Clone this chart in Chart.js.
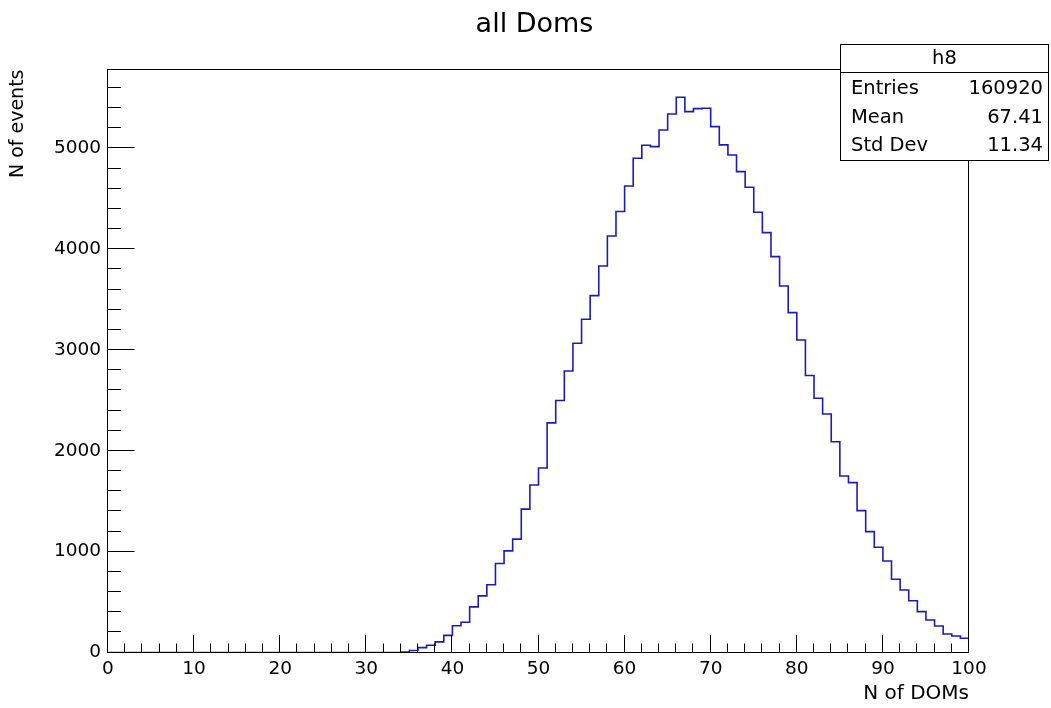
<!DOCTYPE html>
<html>
<head>
<meta charset="utf-8">
<script src="https://cdn.jsdelivr.net/npm/chart.js@4/dist/chart.umd.min.js"></script>
<style>
  html, body { margin: 0; padding: 0; background: #fff; }
  #wrap { width: 1051px; height: 708px; }
</style>
</head>
<body>
<div id="wrap"><canvas id="c" width="1051" height="708"></canvas></div>
<script>
// ---- data ----
const chartTitle = "all Doms";
const xTitle = "N of DOMs";
const yTitle = "N of events";
const histName = "h8";
const statLabels = ["Entries", "Mean", "Std Dev"];
const statValues = ["160920", "67.41", "11.34"];
const xMin = 0;
const xMax = 100;
const yMax = 5783;
const xTickValues = [0, 10, 20, 30, 40, 50, 60, 70, 80, 90, 100];
const yTickValues = [0, 1000, 2000, 3000, 4000, 5000];
// bin contents, bins of width 1 from 0 to 100
const counts = [
  0, 0, 0, 0, 0, 0, 0, 0, 0, 0,
  0, 0, 0, 0, 0, 0, 0, 0, 0, 0,
  0, 0, 0, 0, 0, 0, 0, 0, 0, 0,
  0, 0, 0, 0, 5, 20, 48, 72, 105, 170,
  265, 300, 453, 562, 672, 883, 1008, 1125, 1422, 1662,
  1830, 2278, 2500, 2793, 3067, 3305, 3540, 3834, 4132, 4374,
  4628, 4903, 5031, 5018, 5183, 5342, 5508, 5365, 5395, 5398,
  5216, 5035, 4935, 4770, 4615, 4367, 4165, 3927, 3636, 3371,
  3100, 2748, 2522, 2366, 2091, 1751, 1685, 1407, 1199, 1044,
  908, 726, 620, 514, 405, 322, 263, 184, 164, 141
];
const xMajorStep = 10, xMinorStep = 2;
const yMajorStep = 1000, yMinorStep = 200;

// ---- build step points from the bins ----
const binWidth = (xMax - xMin) / counts.length;
const points = counts.map((v, i) => ({ x: xMin + i * binWidth, y: v }));
points.push({ x: xMax, y: counts[counts.length - 1] });

const FONT = "'DejaVu Sans', sans-serif";

const rootDecor = {
  id: 'rootDecor',
  afterDatasetsDraw(chart) {
    const { ctx, chartArea: ca, scales } = chart;
    const xs = scales.x, ys = scales.y;
    ctx.save();
    ctx.strokeStyle = '#000';
    ctx.lineWidth = 1;
    const L = Math.round(ca.left) - 0.5, R = Math.round(ca.right) - 0.5;
    const T = Math.round(ca.top) - 0.5, B = Math.round(ca.bottom) - 0.5;
    ctx.strokeRect(L, T, R - L, B - T);
    ctx.beginPath();
    // y ticks (inward)
    for (let v = 0; v <= yMax + 1e-6; v += yMinorStep) {
      const y = Math.round(ys.getPixelForValue(v)) - 0.5;
      const len = (v % yMajorStep === 0) ? 27 : 13.5;
      ctx.moveTo(L, y); ctx.lineTo(L + len, y);
    }
    // x ticks (inward)
    for (let v = xMin; v <= xMax + 1e-6; v += xMinorStep) {
      const x = Math.round(xs.getPixelForValue(v)) - 0.5;
      const len = (v % xMajorStep === 0) ? 17.5 : 9;
      ctx.moveTo(x, B); ctx.lineTo(x, B - len);
    }
    ctx.stroke();

    // title
    ctx.fillStyle = '#000';
    ctx.font = `27px ${FONT}`;
    ctx.textAlign = 'center';
    ctx.textBaseline = 'alphabetic';
    ctx.fillText(chartTitle, 534.5, 32);

    // stats box
    const bx = 840.5, by = 44.5, bw = 208, bh = 116;
    ctx.fillStyle = '#fff';
    ctx.fillRect(bx, by, bw, bh);
    ctx.strokeRect(bx, by, bw, bh);
    ctx.beginPath();
    ctx.moveTo(bx, 72.5); ctx.lineTo(bx + bw, 72.5);
    ctx.stroke();
    ctx.fillStyle = '#000';
    ctx.font = `19.5px ${FONT}`;
    ctx.textBaseline = 'middle';
    ctx.textAlign = 'center';
    ctx.fillText(histName, bx + bw / 2, 59);
    const rowY = [89, 117.5, 146];
    statLabels.forEach((lab, i) => {
      ctx.textAlign = 'left';
      ctx.fillText(lab, 851, rowY[i]);
      ctx.textAlign = 'right';
      ctx.fillText(statValues[i], 1043, rowY[i]);
    });
    ctx.restore();
  }
};

new Chart(document.getElementById('c'), {
  type: 'line',
  data: {
    datasets: [{
      data: points,
      stepped: 'before',
      borderColor: 'rgb(28,28,180)',
      borderWidth: 1.6,
      pointRadius: 0,
      fill: false,
      tension: 0
    }]
  },
  options: {
    responsive: false,
    animation: false,
    devicePixelRatio: 1,
    layout: { padding: { left: 0, right: 82, top: 69.5, bottom: 0 } },
    plugins: { legend: { display: false }, tooltip: { enabled: false }, title: { display: false } },
    scales: {
      x: {
        type: 'linear',
        min: xMin, max: xMax,
        grid: { display: false, drawTicks: false },
        border: { display: false },
        afterBuildTicks(s) { s.ticks = xTickValues.map(v => ({ value: v })); },
        ticks: {
          color: '#000', padding: 6,
          maxRotation: 0, autoSkip: false,
          callback: v => String(v),
          font: { family: FONT, size: 18.5 }
        },
        title: {
          display: true, text: xTitle, align: 'end', color: '#000',
          font: { family: FONT, size: 20 }, padding: { top: 0, bottom: 2 }
        },
        afterFit(s) { s.height = 55.5; }
      },
      y: {
        type: 'linear',
        min: 0, max: yMax,
        grid: { display: false, drawTicks: false },
        border: { display: false },
        afterBuildTicks(s) { s.ticks = yTickValues.map(v => ({ value: v })); },
        ticks: {
          color: '#000', padding: 7, autoSkip: false,
          callback: v => String(v),
          font: { family: FONT, size: 18.5 }
        },
        title: {
          display: true, text: yTitle, align: 'end', color: '#000',
          font: { family: FONT, size: 19 }, padding: { top: 7, bottom: 0 }
        },
        afterFit(s) { s.width = 108; }
      }
    }
  },
  plugins: [rootDecor]
});
</script>
</body>
</html>
